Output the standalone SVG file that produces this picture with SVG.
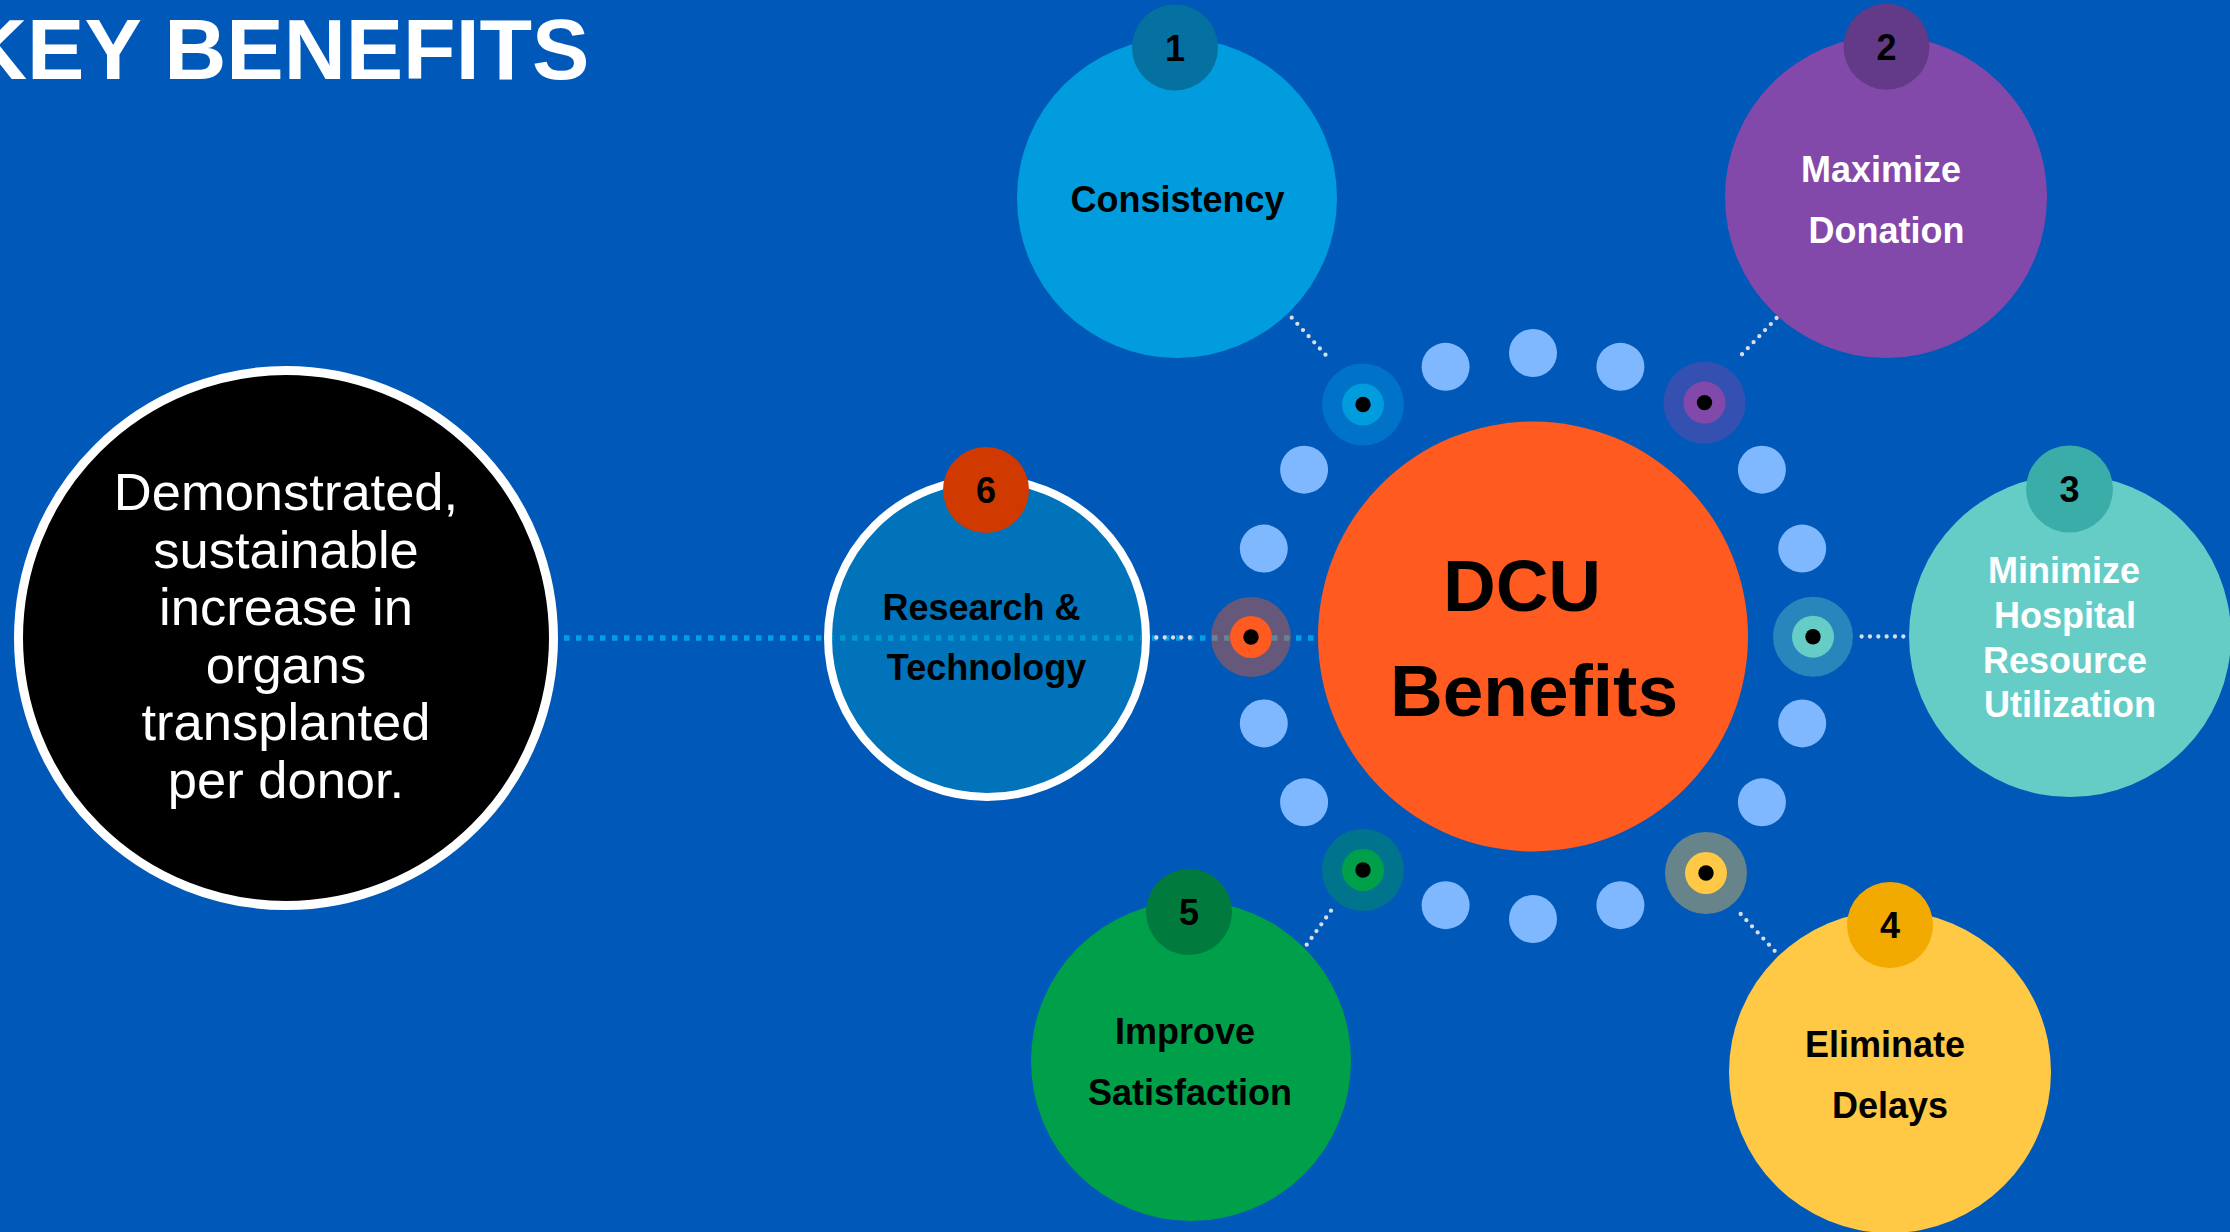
<svg xmlns="http://www.w3.org/2000/svg" width="2230" height="1232" viewBox="0 0 2230 1232">
<style>
.t{font-family:"Liberation Sans",Arial,sans-serif;font-weight:bold;text-anchor:middle}
.bt{font-size:36px;fill:#000}
.wt{font-size:36px;fill:#fff}
.num{font-size:36px;fill:#000}
.dot{fill:#80B8FF}
.wd{stroke:#D9DDE6;stroke-width:4.3;stroke-linecap:round;stroke-dasharray:0 8.35;fill:none}
.bl{stroke:#00A0E6;stroke-width:5.5;stroke-dasharray:5.5 6.5;fill:none}
.core{fill:#000}
</style>
<rect x="0" y="0" width="2230" height="1232" fill="#0058B8"/>
<text x="-35" y="79" font-family="Liberation Sans,Arial,sans-serif" font-weight="bold" font-size="86" fill="#fff">KEY BENEFITS</text>

<g id="connectors">
<line class="bl" x1="552" y1="638" x2="1322" y2="638"/>
<line class="wd" x1="1291.7" y1="317.7" x2="1331" y2="360.7"/>
<line class="wd" x1="1776.6" y1="318" x2="1739.7" y2="356.7"/>
<line class="wd" x1="1861.6" y1="636.5" x2="1904.5" y2="636.5"/>
<line class="wd" x1="1740.7" y1="914" x2="1780" y2="956.7"/>
<line class="wd" x1="1331" y1="910.7" x2="1306" y2="945.7"/>
<line class="wd" x1="1148" y1="637.5" x2="1198" y2="637.5"/>
</g>

<g id="node-outcome">
<circle cx="286" cy="638" r="267.5" fill="#000" stroke="#fff" stroke-width="9"/>
<g font-family="Liberation Sans,Arial,sans-serif" font-size="52.5" fill="#fff" text-anchor="middle">
<text x="286" y="510">Demonstrated,</text>
<text x="286" y="567.5">sustainable</text>
<text x="286" y="625">increase in</text>
<text x="286" y="682.5">organs</text>
<text x="286" y="740">transplanted</text>
<text x="286" y="797.5">per donor.</text>
</g>
</g>

<g id="ring-dots">
<circle class="dot" cx="1445.6" cy="366.8" r="24"/>
<circle class="dot" cx="1533" cy="353" r="24"/>
<circle class="dot" cx="1620.4" cy="366.8" r="24"/>
<circle class="dot" cx="1761.9" cy="469.7" r="24"/>
<circle class="dot" cx="1802.2" cy="548.6" r="24"/>
<circle class="dot" cx="1802.2" cy="723.4" r="24"/>
<circle class="dot" cx="1761.9" cy="802.3" r="24"/>
<circle class="dot" cx="1620.4" cy="905.2" r="24"/>
<circle class="dot" cx="1533" cy="919" r="24"/>
<circle class="dot" cx="1445.6" cy="905.2" r="24"/>
<circle class="dot" cx="1304.1" cy="802.3" r="24"/>
<circle class="dot" cx="1263.8" cy="723.4" r="24"/>
<circle class="dot" cx="1263.8" cy="548.6" r="24"/>
<circle class="dot" cx="1304.1" cy="469.7" r="24"/>
</g>

<g id="targets">
<g id="target-1"><circle cx="1363" cy="404.5" r="41" fill="#009CDE" fill-opacity="0.4"/><circle cx="1363" cy="404.5" r="21" fill="#009CDE"/><circle class="core" cx="1363" cy="404.5" r="7.7"/></g>
<g id="target-2"><circle cx="1704.5" cy="402.6" r="41" fill="#8349AA" fill-opacity="0.4"/><circle cx="1704.5" cy="402.6" r="21" fill="#8349AA"/><circle class="core" cx="1704.5" cy="402.6" r="7.7"/></g>
<g id="target-3"><circle cx="1813" cy="636.7" r="40" fill="#66CCC6" fill-opacity="0.4"/><circle cx="1813" cy="636.7" r="21" fill="#66CCC6"/><circle class="core" cx="1813" cy="636.7" r="7.7"/></g>
<g id="target-4"><circle cx="1706" cy="873" r="41" fill="#FFC845" fill-opacity="0.4"/><circle cx="1706" cy="873" r="21" fill="#FFC845"/><circle class="core" cx="1706" cy="873" r="7.7"/></g>
<g id="target-5"><circle cx="1363" cy="870" r="41" fill="#00A04B" fill-opacity="0.4"/><circle cx="1363" cy="870" r="21" fill="#00A04B"/><circle class="core" cx="1363" cy="870" r="7.7"/></g>
<g id="target-6"><circle cx="1251" cy="637" r="40" fill="#FF5A1F" fill-opacity="0.4"/><circle cx="1251" cy="637" r="21" fill="#FF5A1F"/><circle class="core" cx="1251" cy="637" r="7.7"/></g>
</g>

<g id="node-dcu">
<circle cx="1533" cy="636.5" r="215" fill="#FF5A1F"/>
<text class="t" x="1522" y="611" font-size="73" fill="#000">DCU</text>
<text class="t" x="1534" y="716" font-size="73" fill="#000">Benefits</text>
</g>

<g id="node-1">
<circle cx="1177" cy="198" r="160" fill="#009CDE"/>
<circle cx="1175" cy="47.5" r="43" fill="#0471A0"/>
<text class="t num" x="1175" y="60.5">1</text>
<text class="t bt" x="1177.5" y="211.5">Consistency</text>
</g>

<g id="node-2">
<circle cx="1886" cy="197" r="161" fill="#8349AA"/>
<circle cx="1886.5" cy="46.7" r="43" fill="#623A87"/>
<text class="t num" x="1886.5" y="59.7">2</text>
<text class="t wt" x="1881" y="181.5">Maximize</text>
<text class="t wt" x="1886.5" y="242.5">Donation</text>
</g>

<g id="node-3">
<circle cx="2070" cy="636" r="161" fill="#66CCC6"/>
<circle cx="2069.5" cy="489" r="43.5" fill="#3AADA8"/>
<text class="t num" x="2069.5" y="502">3</text>
<text class="t wt" x="2064" y="582.7">Minimize</text>
<text class="t wt" x="2065" y="628">Hospital</text>
<text class="t wt" x="2065" y="672.7">Resource</text>
<text class="t wt" x="2070" y="717">Utilization</text>
</g>

<g id="node-4">
<circle cx="1890" cy="1072" r="161" fill="#FFC845"/>
<circle cx="1890" cy="925" r="43" fill="#F2A900"/>
<text class="t num" x="1890" y="938">4</text>
<text class="t bt" x="1885" y="1056.7">Eliminate</text>
<text class="t bt" x="1890" y="1118">Delays</text>
</g>

<g id="node-5">
<circle cx="1191" cy="1061" r="160" fill="#00A04B"/>
<circle cx="1189" cy="912" r="43" fill="#007A3D"/>
<text class="t num" x="1189" y="925">5</text>
<text class="t bt" x="1185" y="1044">Improve</text>
<text class="t bt" x="1190" y="1105">Satisfaction</text>
</g>

<g id="node-6">
<circle cx="987" cy="638" r="159" fill="#008EBE" fill-opacity="0.5" stroke="#fff" stroke-width="8"/>
<circle cx="986" cy="490" r="43" fill="#D03A00"/>
<text class="t num" x="986" y="503">6</text>
<text class="t bt" x="981.5" y="620">Research &amp;</text>
<text class="t bt" x="986.5" y="680">Technology</text>
</g>
</svg>
